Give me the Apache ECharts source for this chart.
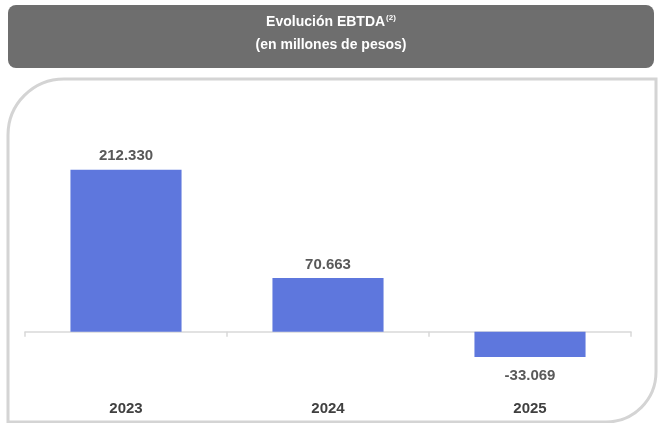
<!DOCTYPE html>
<html>
<head>
<meta charset="utf-8">
<script src="https://cdn.jsdelivr.net/npm/echarts@6/dist/echarts.min.js"></script>
<style>
  html, body { margin: 0; padding: 0; background: #fff; }
  #chart { width: 661px; height: 423px; }
</style>
</head>
<body>
<div id="chart"></div>
<script>
// datos del gráfico
var years = ['2023', '2024', '2025'];
var ebtda = [212330, 70663, -33069];

// formato 212.330
function fmt(v) {
  var s = Math.abs(v).toString().replace(/\B(?=(\d{3})+(?!\d))/g, '.');
  return (v < 0 ? '-' : '') + s;
}

var myChart = echarts.init(document.getElementById('chart'));
var option = {
  animation: false,
  textStyle: { fontFamily: 'Liberation Sans, Arial, sans-serif' },
  graphic: [
    {
      type: 'rect',
      shape: { x: 8, y: 5, width: 646, height: 63, r: 8 },
      style: { fill: '#6e6e6e' }
    },
    {
      type: 'text',
      x: 331, y: 22,
      style: {
        text: '{a|Evolución EBTDA}{s|(2)}',
        align: 'center', verticalAlign: 'middle',
        rich: {
          a: { fill: '#fff', fontSize: 14, fontWeight: 'bold', fontFamily: 'Liberation Sans' },
          s: { fill: '#fff', fontSize: 8, fontWeight: 'bold', fontFamily: 'Liberation Sans', padding: [0, 0, 8, 1] }
        }
      }
    },
    {
      type: 'text',
      x: 331, y: 45,
      style: {
        text: '(en millones de pesos)',
        align: 'center', verticalAlign: 'middle',
        fill: '#fff', fontSize: 14, fontWeight: 'bold', fontFamily: 'Liberation Sans'
      }
    },
    {
      type: 'rect',
      shape: { x: 8, y: 79, width: 648, height: 343, r: [56, 0, 50, 0] },
      style: { fill: 'none', stroke: '#d4d4d4', lineWidth: 3 }
    }
  ],
  grid: { left: 25, right: 30, top: 141, bottom: 53, outerBoundsMode: 'none' },
  xAxis: [{
    type: 'category',
    data: years,
    axisLine: { onZero: true, lineStyle: { color: '#d9d9d9', width: 1.5 } },
    axisTick: { show: true, length: 5, lineStyle: { color: '#d9d9d9', width: 1.5 } },
    axisLabel: { show: false }
  }, {
    type: 'category',
    data: years,
    position: 'bottom',
    axisLine: { show: false, onZero: false },
    axisTick: { show: false },
    axisLabel: { margin: 31, color: '#404040', fontSize: 15, fontWeight: 'bold' }
  }],
  yAxis: {
    type: 'value',
    show: false,
    min: -50000,
    max: 250000,
    splitLine: { show: false }
  },
  series: [{
    type: 'bar',
    barWidth: '55%',
    itemStyle: { color: '#5e77dd' },
    label: {
      show: true,
      position: 'top',
      distance: 6,
      color: '#595959',
      fontSize: 15,
      fontWeight: 'bold',
      formatter: function (p) { return fmt(p.value); }
    },
    data: ebtda.map(function (v) {
      return v < 0 ? { value: v, label: { position: 'bottom', distance: 11 } } : v;
    })
  }]
};
myChart.setOption(option);
</script>
</body>
</html>
